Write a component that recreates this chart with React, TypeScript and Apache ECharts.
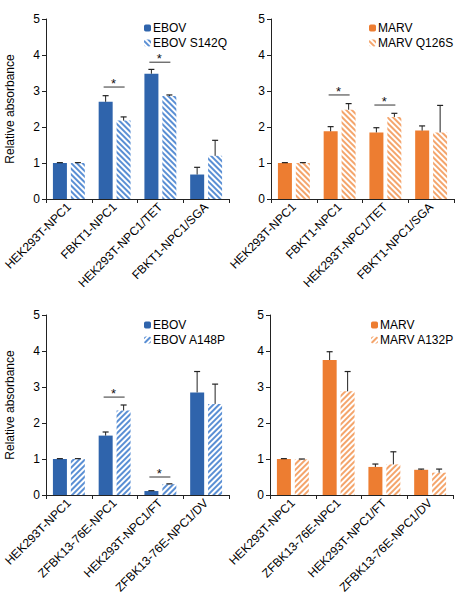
import React, { useEffect, useRef } from "react";
import * as echarts from "echarts";

// ---- data ----
const catsTop = ["HEK293T-NPC1", "FBKT1-NPC1", "HEK293T-NPC1/TET", "FBKT1-NPC1/SGA"];
const catsBottom = ["HEK293T-NPC1", "ZFBK13-76E-NPC1", "HEK293T-NPC1/FT", "ZFBK13-76E-NPC1/DV"];

const ebovTop = [1.0, 2.7, 3.48, 0.68];
const ebovTopErr = [0.01, 0.17, 0.12, 0.2];
const ebovS142Q = [1.0, 2.18, 2.86, 1.2];
const ebovS142QErr = [0.01, 0.1, 0.03, 0.43];

const marvTop = [1.0, 1.88, 1.85, 1.9];
const marvTopErr = [0.01, 0.13, 0.13, 0.13];
const marvQ126S = [1.0, 2.48, 2.28, 1.85];
const marvQ126SErr = [0.01, 0.17, 0.1, 0.75];

const ebovBottom = [1.0, 1.65, 0.11, 2.85];
const ebovBottomErr = [0.01, 0.1, 0.01, 0.58];
const ebovA148P = [1.0, 2.35, 0.3, 2.53];
const ebovA148PErr = [0.01, 0.15, 0.01, 0.55];

const marvBottom = [1.0, 3.75, 0.78, 0.7];
const marvBottomErr = [0.01, 0.23, 0.08, 0.02];
const marvA132P = [0.99, 2.88, 0.85, 0.62];
const marvA132PErr = [0.01, 0.55, 0.35, 0.1];

// significance markers: [category index, y of bar line]
const sigP1 = [[1, 3.11], [2, 3.8]];
const sigP2 = [[1, 2.89], [2, 2.61]];
const sigP3 = [[1, 2.72], [2, 0.5]];
const sigP4: number[][] = [];

const yTicks = [0, 1, 2, 3, 4, 5];

// ---- styles ----
const BLUE = "#2F64AC";
const BLUE_STRIPE = "#5A8FD4";
const ORANGE = "#ED7D31";
const ORANGE_STRIPE = "#F4A56C";
const FONT = "Liberation Sans, Arial, sans-serif";
const BAR_W = 14;
const OFF = 9;

function hatch(color: string, dir: number) {
  return {
    color: "#fff",
    decal: {
      symbol: "rect",
      symbolSize: 1,
      color,
      backgroundColor: "#fff",
      dashArrayX: [1, 0],
      dashArrayY: [2, 2],
      rotation: dir * Math.PI / 4,
    },
  };
}

const App: React.FC = () => {
  const ref = useRef<HTMLDivElement>(null);
  useEffect(() => {
    if (!ref.current) return;
    const chart = echarts.init(ref.current, null, { renderer: "svg" });

    const grids = [
      { left: 46, top: 19, width: 183, height: 180 },
      { left: 271, top: 19, width: 183, height: 180 },
      { left: 46, top: 315, width: 183, height: 180 },
      { left: 270, top: 315, width: 183, height: 180 },
    ];
    const cats = [catsTop, catsTop, catsBottom, catsBottom];

    const xAxis = cats.map((c, i) => ({
      type: "category",
      gridIndex: i,
      data: c,
      axisLine: { lineStyle: { color: "#222", width: 1 } },
      axisTick: { show: true, length: 4, interval: 0, lineStyle: { color: "#222" } },
      axisLabel: {
        interval: 0,
        rotate: 45,
        margin: 6,
        color: "#000",
        fontSize: 12,
        fontFamily: FONT,
      },
    }));

    const yAxis = [0, 1, 2, 3].map((i) => ({
      type: "value",
      gridIndex: i,
      min: yTicks[0],
      max: yTicks[yTicks.length - 1],
      interval: 1,
      name: i % 2 === 0 ? "Relative absorbance" : "",
      nameLocation: "middle",
      nameGap: 30,
      nameTextStyle: { color: "#000", fontSize: 12, fontFamily: FONT },
      axisLine: { show: true, lineStyle: { color: "#222", width: 1 } },
      axisTick: { show: true, length: 4, lineStyle: { color: "#222" } },
      axisLabel: { color: "#000", fontSize: 12, fontFamily: FONT, margin: 6 },
      splitLine: { show: false },
    }));

    const panels = [
      { a: "EBOV", b: "EBOV S142Q", av: ebovTop, ae: ebovTopErr, bv: ebovS142Q, be: ebovS142QErr, col: BLUE, stripe: BLUE_STRIPE, dir: 1, sig: sigP1 },
      { a: "MARV", b: "MARV Q126S", av: marvTop, ae: marvTopErr, bv: marvQ126S, be: marvQ126SErr, col: ORANGE, stripe: ORANGE_STRIPE, dir: 1, sig: sigP2 },
      { a: "EBOV", b: "EBOV A148P", av: ebovBottom, ae: ebovBottomErr, bv: ebovA148P, be: ebovA148PErr, col: BLUE, stripe: BLUE_STRIPE, dir: -1, sig: sigP3 },
      { a: "MARV", b: "MARV A132P", av: marvBottom, ae: marvBottomErr, bv: marvA132P, be: marvA132PErr, col: ORANGE, stripe: ORANGE_STRIPE, dir: -1, sig: sigP4 },
    ];

    const series: any[] = [];
    panels.forEach((p, i) => {
      series.push({
        type: "bar",
        name: p.a,
        xAxisIndex: i,
        yAxisIndex: i,
        data: p.av,
        barWidth: BAR_W,
        barGap: "28%",
        itemStyle: { color: p.col },
      });
      series.push({
        type: "bar",
        name: p.b,
        xAxisIndex: i,
        yAxisIndex: i,
        data: p.bv,
        barWidth: BAR_W,
        barGap: "28%",
        itemStyle: hatch(p.stripe, p.dir),
      });
      const errData: number[][] = [];
      p.av.forEach((v, k) => errData.push([k, v, p.ae[k], -1]));
      p.bv.forEach((v, k) => errData.push([k, v, p.be[k], 1]));
      series.push({
        type: "custom",
        name: "err" + i,
        xAxisIndex: i,
        yAxisIndex: i,
        z: 5,
        data: errData,
        renderItem: (params: any, api: any) => {
          const c = api.value(0);
          const v = api.value(1);
          const e = api.value(2);
          const s = api.value(3);
          const lo = api.coord([c, v]);
          const hi = api.coord([c, v + e]);
          const x = lo[0] + s * OFF;
          return {
            type: "group",
            children: [
              { type: "line", shape: { x1: x, y1: lo[1], x2: x, y2: hi[1] }, style: { stroke: "#222", lineWidth: 1 } },
              { type: "line", shape: { x1: x - 3, y1: hi[1], x2: x + 3, y2: hi[1] }, style: { stroke: "#222", lineWidth: 1.2 } },
            ],
          };
        },
      });
      series.push({
        type: "custom",
        name: "sig" + i,
        xAxisIndex: i,
        yAxisIndex: i,
        z: 5,
        data: p.sig,
        renderItem: (params: any, api: any) => {
          const c = api.value(0);
          const y = api.value(1);
          const pt = api.coord([c, y]);
          return {
            type: "group",
            children: [
              { type: "line", shape: { x1: pt[0] - 11, y1: pt[1], x2: pt[0] + 10, y2: pt[1] }, style: { stroke: "#333", lineWidth: 1 } },
              {
                type: "text",
                x: pt[0] - 1,
                y: pt[1] + 3,
                style: { text: "*", fill: "#111", font: "13px " + FONT, textAlign: "center", textVerticalAlign: "bottom" },
              },
            ],
          };
        },
      });
    });

    const legendPos = [
      { left: 139, top: 17 },
      { left: 364, top: 17 },
      { left: 139, top: 314 },
      { left: 366, top: 314 },
    ];
    const legend = panels.map((p, i) => ({
      ...legendPos[i],
      orient: "vertical",
      data: [p.a, p.b],
      itemWidth: 7,
      itemHeight: 7,
      itemGap: 3,
      selectedMode: false,
      textStyle: { color: "#000", fontSize: 12, fontFamily: FONT, padding: [0, 0, 0, -3] },
    }));

    chart.setOption({
      animation: false,
      backgroundColor: "#fff",
      grid: grids,
      xAxis,
      yAxis,
      legend,
      series,
    });
    return () => chart.dispose();
  }, []);
  return (
    <div
      ref={ref}
      style={{ position: "absolute", left: 0, top: 0, width: 456, height: 597, background: "#fff" }}
    />
  );
};

export default App;
